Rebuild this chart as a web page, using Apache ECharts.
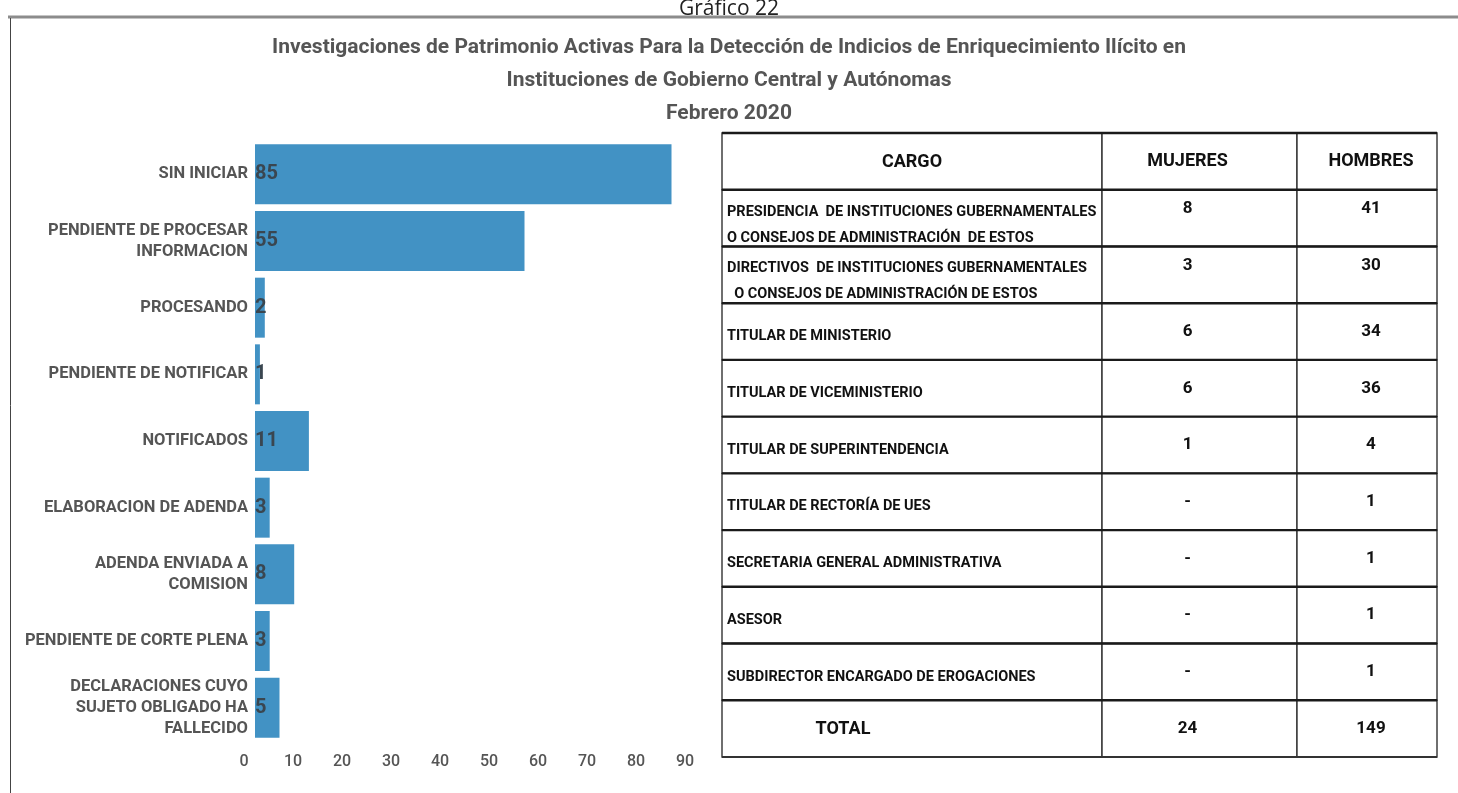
<!DOCTYPE html>
<html>
<head>
    <meta charset="utf-8">
    <title>Gráfico 22</title>
    <script src="https://cdn.jsdelivr.net/npm/echarts@6/dist/echarts.min.js"></script>
    <style>
        html, body {
            margin: 0;
            padding: 0;
            background: #fff;
        }

        #chart {
            width: 1458px;
            height: 793px;
        }
    </style>
</head>
<body>
<div id="chart"></div>

<script type="text/javascript">
    // estados de las investigaciones (grafico de barras)
    var estados = [
        'SIN INICIAR',
        'PENDIENTE DE PROCESAR\nINFORMACION',
        'PROCESANDO',
        'PENDIENTE DE NOTIFICAR',
        'NOTIFICADOS',
        'ELABORACION DE ADENDA',
        'ADENDA ENVIADA A\nCOMISION',
        'PENDIENTE DE CORTE PLENA',
        'DECLARACIONES CUYO\nSUJETO OBLIGADO HA\nFALLECIDO'
    ];
    var cantidades = [85, 55, 2, 1, 11, 3, 8, 3, 5];
    var ejeTicks = [0, 10, 20, 30, 40, 50, 60, 70, 80, 90];

    // tabla por cargo
    var encabezados = ['CARGO', 'MUJERES', 'HOMBRES'];
    var cargos = [
        'PRESIDENCIA  DE INSTITUCIONES GUBERNAMENTALES\nO CONSEJOS DE ADMINISTRACIÓN  DE ESTOS',
        'DIRECTIVOS  DE INSTITUCIONES GUBERNAMENTALES\n  O CONSEJOS DE ADMINISTRACIÓN DE ESTOS',
        'TITULAR DE MINISTERIO',
        'TITULAR DE VICEMINISTERIO',
        'TITULAR DE SUPERINTENDENCIA',
        'TITULAR DE RECTORÍA DE UES',
        'SECRETARIA GENERAL ADMINISTRATIVA',
        'ASESOR',
        'SUBDIRECTOR ENCARGADO DE EROGACIONES'
    ];
    var mujeres = ['8', '3', '6', '6', '1', '-', '-', '-', '-'];
    var hombres = ['41', '30', '34', '36', '4', '1', '1', '1', '1'];
    var totalMujeres = '24';
    var totalHombres = '149';

    var titulo = 'Investigaciones de Patrimonio Activas Para la Detección de Indicios de Enriquecimiento Ilícito en\n' +
        'Instituciones de Gobierno Central y Autónomas\nFebrero 2020';

    // filas de la tabla: encabezado, cargos y total
    var filas = [];
    filas.push({tipo: 'head', c: encabezados[0], m: encabezados[1], h: encabezados[2]});
    for (var i = 0; i < cargos.length; i++) {
        filas.push({tipo: 'body', c: cargos[i], m: mujeres[i], h: hombres[i]});
    }
    filas.push({tipo: 'total', c: 'TOTAL', m: totalMujeres, h: totalHombres});

    var colCortes = [0, 0.5315, 0.8042, 1];

    function renderFila(params, api) {
        var fila = filas[api.value(0)];
        var p = api.coord([0, api.value(0)]);
        var w = api.size([1, 0])[0];
        var hRow = api.size([0, 1])[1];
        var x0 = p[0];
        var y0 = p[1] - hRow / 2;
        var hijos = [];
        var xs = colCortes.map(function (f) { return x0 + f * w; });

        for (var k = 0; k < 3; k++) {
            hijos.push({
                type: 'rect',
                shape: {x: xs[k], y: y0, width: xs[k + 1] - xs[k], height: hRow},
                style: {fill: '#fff', stroke: '#333', lineWidth: 1.4}
            });
        }
        hijos.push({
            type: 'line',
            shape: {x1: x0, y1: y0, x2: x0 + w, y2: y0},
            style: {stroke: '#1a1a1a', lineWidth: 2.4}
        });
        if (fila.tipo === 'total') {
            hijos.push({
                type: 'line',
                shape: {x1: x0, y1: y0 + hRow, x2: x0 + w, y2: y0 + hRow},
                style: {stroke: '#333', lineWidth: 2}
            });
        }

        var fam = 'Roboto, "Noto Sans", sans-serif';
        var multi = fila.c.indexOf('\n') >= 0;
        var numFont = 'bold 17px ';
        var yNum = multi ? y0 + 19 : y0 + hRow / 2;
        if (fila.tipo === 'head') {
            numFont = 'bold 18px ';
            hijos.push({type: 'text', style: {text: fila.c, x: (xs[0] + xs[1]) / 2, y: y0 + hRow / 2 + 1, align: 'center', verticalAlign: 'middle', font: 'bold 18px ' + fam, fill: '#111'}});
        } else if (fila.tipo === 'total') {
            hijos.push({type: 'text', style: {text: fila.c, x: xs[0] + 121, y: y0 + hRow / 2 + 1, align: 'center', verticalAlign: 'middle', font: 'bold 18px ' + fam, fill: '#111'}});
        } else {
            hijos.push({type: 'text', style: {text: fila.c, x: xs[0] + 5, y: y0 + hRow / 2 + (multi ? 7 : 5), align: 'left', verticalAlign: 'middle', font: 'bold 14.5px ' + fam, lineHeight: 26, fill: '#111'}});
        }
        hijos.push({type: 'text', style: {text: fila.m, x: (xs[1] + xs[2]) / 2 - 12, y: yNum, align: 'center', verticalAlign: 'middle', font: numFont + fam, fill: '#111'}});
        hijos.push({type: 'text', style: {text: fila.h, x: (xs[2] + xs[3]) / 2 + 4, y: yNum, align: 'center', verticalAlign: 'middle', font: numFont + fam, fill: '#111'}});

        return {type: 'group', children: hijos};
    }

    var myChart = echarts.init(document.getElementById('chart'));
    var option = {
        backgroundColor: '#fff',
        animation: false,
        title: {
            text: titulo,
            left: 'center',
            top: 26,
            textStyle: {
                fontFamily: 'Roboto',
                fontSize: 21,
                fontWeight: 'bold',
                color: '#555',
                lineHeight: 33
            }
        },
        graphic: [
            {type: 'text', x: 729, y: 20, style: {text: 'Gráfico 22', align: 'center', verticalAlign: 'bottom', font: '21px "Open Sans", sans-serif', fill: '#222'}},
            {type: 'line', shape: {x1: 8, y1: 17, x2: 1458, y2: 17}, style: {stroke: '#8c8c8c', lineWidth: 3}},
            {type: 'line', shape: {x1: 10.5, y1: 18, x2: 10.5, y2: 793}, style: {stroke: '#444', lineWidth: 1}}
        ],
        grid: [
            {left: 255, top: 141, width: 441, height: 600},
            {left: 722, top: 133, width: 715, height: 624}
        ],
        xAxis: [
            {
                gridIndex: 0,
                type: 'value',
                min: ejeTicks[0],
                max: ejeTicks[ejeTicks.length - 1],
                interval: 10,
                splitLine: {show: false},
                axisLine: {show: false},
                axisTick: {show: false},
                axisLabel: {
                    margin: 13,
                    padding: [0, 22, 0, 0],
                    color: '#555',
                    fontFamily: 'Roboto',
                    fontSize: 16,
                    fontWeight: 500
                }
            },
            {gridIndex: 1, type: 'value', min: 0, max: 1, show: false}
        ],
        yAxis: [
            {
                gridIndex: 0,
                type: 'category',
                inverse: true,
                data: estados,
                axisLine: {show: false},
                axisTick: {show: false},
                axisLabel: {
                    margin: 7,
                    color: '#555',
                    fontFamily: 'Roboto',
                    fontSize: 16.5,
                    fontWeight: 'bold',
                    lineHeight: 21
                }
            },
            {
                gridIndex: 1,
                type: 'category',
                inverse: true,
                data: filas.map(function (f, i) { return i; }),
                show: false
            }
        ],
        series: [
            {
                type: 'bar',
                xAxisIndex: 0,
                yAxisIndex: 0,
                data: cantidades,
                barCategoryGap: '10%',
                itemStyle: {color: '#4292c4'},
                label: {
                    show: true,
                    position: 'insideLeft',
                    distance: 0,
                    color: '#3a4650',
                    fontFamily: 'Roboto',
                    fontSize: 20,
                    fontWeight: 'bold'
                }
            },
            {
                type: 'custom',
                xAxisIndex: 1,
                yAxisIndex: 1,
                data: filas.map(function (f, i) { return [i]; }),
                renderItem: renderFila,
                silent: true
            }
        ]
    };
    myChart.setOption(option);
</script>

</body>
</html>
